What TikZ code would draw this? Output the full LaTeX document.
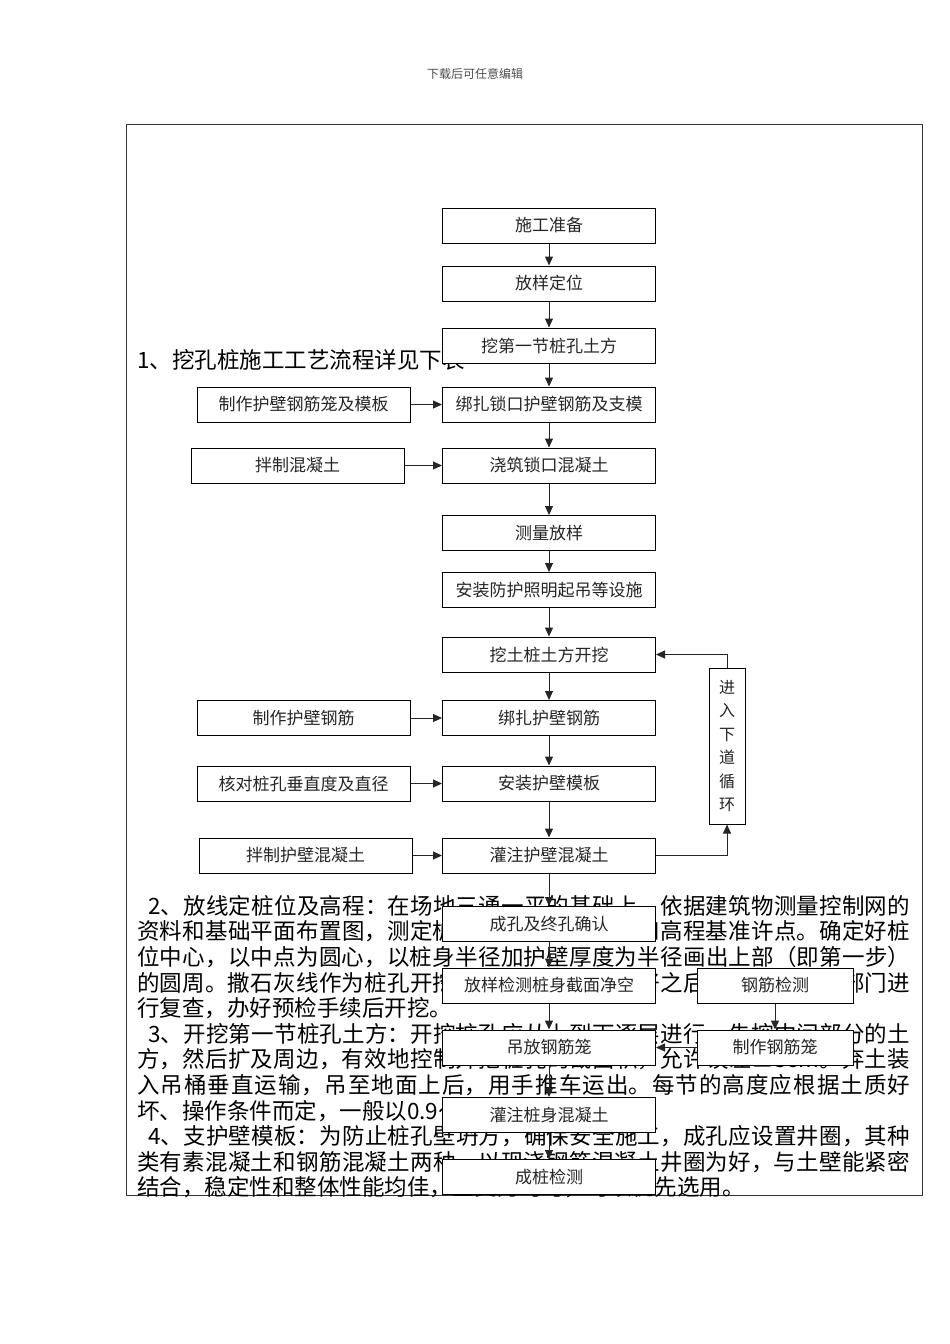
\documentclass[tikz,border=0pt]{standalone}
\usepackage{fontspec}
\setmainfont{Noto Sans CJK SC}
\usetikzlibrary{arrows.meta}
\XeTeXlinebreaklocale "zh"
\XeTeXlinebreakskip=0pt plus 4pt
\begin{document}
\begin{tikzpicture}
[x=1pt,y=-1pt,
  boxdecorate/.style={shape=rectangle,draw,fill=white,line width=1pt,
    minimum width=213pt,minimum height=35pt,inner sep=0pt,
    text=black!85,font=\fontsize{17}{20}\selectfont},
  smallboxdecorate/.style={boxdecorate,minimum width=156pt},
  linedecorate/.style={-{Triangle[length=9pt,width=8pt]},line width=1pt,black!85}]
\useasboundingbox (0,0) rectangle (950,1344);
%% page header and frame
\node (header) at (475,74) [text=black!70,font=\fontsize{12}{14}\selectfont] {下载后可任意编辑};
\draw[line width=1pt,black!80] (126,124) rectangle (922,1195);
%% text behind the chart
\node (title) at (137,360) [anchor=west,inner sep=0pt,font=\fontsize{22.5}{25.6}\selectfont] {1、挖孔桩施工工艺流程详见下表};
\node (steps) at (137,895) [anchor=north west,inner sep=0pt,text width=773pt,align=justify,
  font=\fontsize{22.5}{25.6}\selectfont]
{\parindent=0pt\parskip=0pt
\hspace*{11pt}2、放线定桩位及高程：在场地三通一平的基础上，依据建筑物测量控制网的\linebreak
资料和基础平面布置图，测定桩位轴线方格控制网和高程基准许点。确定好桩\linebreak
位中心，以中点为圆心，以桩身半径加护壁厚度为半径画出上部（即第一步）\linebreak
的圆周。撒石灰线作为桩孔开挖尺寸线。桩位线定好之后，必须经有关部门进\linebreak
行复查，办好预检手续后开挖。\par
\hspace*{11pt}3、开挖第一节桩孔土方：开挖桩孔应从上到下逐层进行，先挖中间部分的土\linebreak
方，然后扩及周边，有效地控制开挖桩孔的截面积，允许误差±3cm。弃土装\linebreak
入吊桶垂直运输，吊至地面上后，用手推车运出。每节的高度应根据土质好\linebreak
坏、操作条件而定，一般以0.9～1.2m为宜。\par
\hspace*{11pt}4、支护壁模板：为防止桩孔壁坍方，确保安全施工，成孔应设置井圈，其种\linebreak
类有素混凝土和钢筋混凝土两种，以现浇钢筋混凝土井圈为好，与土壁能紧密\linebreak
结合，稳定性和整体性能均佳，且受力均匀，可以优先选用。\par};
%% main column
\foreach \nodename/\y/\label in {shigong/225.5/施工准备, fangyang/283.5/放样定位,
  wadiyi/345.5/挖第一节桩孔土方, bangzha/404.5/绑扎锁口护壁钢筋及支模,
  jiaozhu/465.5/浇筑锁口混凝土, celiang/533/测量放样,
  anzhuang/590/安装防护照明起吊等设施, watu/654.5/挖土桩土方开挖,
  bangzhahb/718/绑扎护壁钢筋, anzhuangmb/783.5/安装护壁模板,
  guanzhuhb/855.5/灌注护壁混凝土, chengkong/924/成孔及终孔确认,
  fangyangjc/985.5/放样检测桩身截面净空, diaofang/1047.5/吊放钢筋笼,
  guanzhuzs/1115/灌注桩身混凝土, chengzhuang/1177/成桩检测}
{
  \node (\nodename) at (549,\y) [boxdecorate] {\label};
}
%% side boxes
\foreach \nodename/\x/\y/\label in {zhizuolong/303.5/404.5/制作护壁钢筋笼及模板,
  banzhi/297.5/465.5/拌制混凝土, zhizuohb/303.5/718/制作护壁钢筋,
  hedui/303.5/783.5/核对桩孔垂直度及直径, banzhihb/305.5/855.5/拌制护壁混凝土}
{
  \node (\nodename) at (\x,\y) [boxdecorate] {\label};
}
\foreach \nodename/\y/\label in {gangjinjc/985.5/钢筋检测, zhizuogjl/1047.5/制作钢筋笼}
{
  \node (\nodename) at (775,\y) [smallboxdecorate] {\label};
}
\node (xunhuan) at (727,746) [boxdecorate,minimum width=36pt,minimum height=156pt,
  align=center,font=\fontsize{16}{23.5}\selectfont] {进\\入\\下\\道\\循\\环};
%% edges or lines
\path
\foreach \startnode/\endnode in {shigong/fangyang, fangyang/wadiyi, wadiyi/bangzha,
  bangzha/jiaozhu, jiaozhu/celiang, celiang/anzhuang, anzhuang/watu, watu/bangzhahb,
  bangzhahb/anzhuangmb, anzhuangmb/guanzhuhb, guanzhuhb/chengkong,
  chengkong/fangyangjc, fangyangjc/diaofang, diaofang/guanzhuzs,
  guanzhuzs/chengzhuang, zhizuolong/bangzha, banzhi/jiaozhu, zhizuohb/bangzhahb,
  hedui/anzhuangmb, banzhihb/guanzhuhb, gangjinjc/zhizuogjl, zhizuogjl/diaofang}
{
  (\startnode) edge[linedecorate] (\endnode)
};
\draw[linedecorate] (guanzhuhb.east) -| (xunhuan.south);
\draw[linedecorate] (xunhuan.north) |- (watu.east);
\end{tikzpicture}
\end{document}
